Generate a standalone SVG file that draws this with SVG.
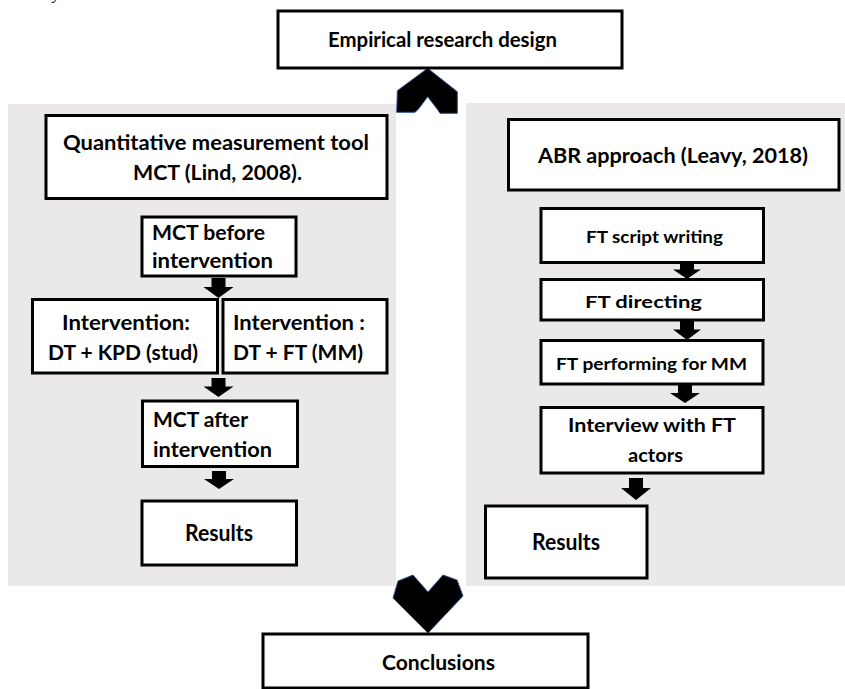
<svg xmlns="http://www.w3.org/2000/svg" width="845" height="689" viewBox="0 0 845 689">
  <style>
    .panel { fill: #eae8e8; }
    .box { fill: #ffffff; stroke: #000000; stroke-width: 3; }
    .t { font-family: Lato, "Open Sans", "Liberation Sans", sans-serif; font-weight: bold; fill: #000000; }
    .big { font-size: 21px; }
    .res { font-size: 22px; }
    .small { font-size: 17.5px; }
    .mid { font-size: 19.5px; }
    .arr { fill: #000000; }
    .chev { fill: #000000; stroke: #2f528f; stroke-width: 1; stroke-linejoin: miter; }
  </style>
  <rect width="845" height="689" fill="#ffffff"/>

  <!-- descender of the caption line above -->
  <text x="53" y="-1" font-family="'Liberation Serif', serif" font-style="italic" font-size="16">y</text>

  <!-- background panels -->
  <rect class="panel" x="8" y="104" width="388" height="482"/>
  <rect class="panel" x="466" y="103" width="379" height="483"/>

  <!-- connectors -->
  <g id="connectors">
    <!-- chevron up to the design box -->
    <polygon class="chev" points="427.7,68.3 457.3,91.7 457.3,113.3 440,113.3 437.3,109.3 427.7,96.7 418.3,109.3 415,112.3 396.7,112.3 397.3,90.7"/>
    <!-- chevron down to conclusions -->
    <polygon class="chev" points="398,581 413,575 428,592 443,575 457,580 463,596 428,633 393,598"/>
    <!-- left column arrows -->
    <path class="arr" d="M211.5,278 H225.5 V287 H233.5 L218.5,298 L203.5,287 H211.5 Z"/>
    <path class="arr" d="M211.5,378 H225.5 V386.5 H233.5 L218.5,397 L203.5,386.5 H211.5 Z"/>
    <path class="arr" d="M212,471 H226 V479 H234 L219,489 L204,479 H212 Z"/>
    <!-- right column arrows -->
    <path class="arr" d="M680,262 H694 V269.5 H701 L687,279 L673,269.5 H680 Z"/>
    <path class="arr" d="M680,321 H694 V329.5 H701 L687,340 L673,329.5 H680 Z"/>
    <path class="arr" d="M678,385 H692 V393 H700 L685,403 L670,393 H678 Z"/>
    <path class="arr" d="M629,478 H643 V488 H651 L636,500 L621,488 H629 Z"/>
  </g>

  <g id="design">
    <rect class="box" x="278" y="11" width="344" height="57"/>
    <text class="t big" x="328" y="47" textLength="229" lengthAdjust="spacingAndGlyphs">Empirical research design</text>
  </g>

  <g id="quant-tool">
    <rect class="box" x="46" y="115.5" width="341" height="83"/>
    <text class="t big" x="63" y="150" textLength="306" lengthAdjust="spacingAndGlyphs">Quantitative measurement tool</text>
    <text class="t big" x="133" y="180" textLength="169" lengthAdjust="spacingAndGlyphs">MCT (Lind, 2008).</text>
  </g>

  <g id="mct-before">
    <rect class="box" x="142" y="217" width="154" height="59"/>
    <text class="t big" x="152" y="240" textLength="113" lengthAdjust="spacingAndGlyphs">MCT before</text>
    <text class="t big" x="152" y="268" textLength="121" lengthAdjust="spacingAndGlyphs">intervention</text>
  </g>

  <g id="intervention-kpd">
    <rect class="box" x="32.5" y="299.5" width="185" height="73.5"/>
    <text class="t big" x="62" y="330" textLength="128" lengthAdjust="spacingAndGlyphs">Intervention:</text>
    <text class="t big" x="48" y="360" textLength="150" lengthAdjust="spacingAndGlyphs">DT + KPD (stud)</text>
  </g>

  <g id="intervention-ft">
    <rect class="box" x="223" y="299.5" width="164" height="73.5"/>
    <text class="t big" x="233" y="330" textLength="132" lengthAdjust="spacingAndGlyphs">Intervention :</text>
    <text class="t big" x="233" y="360" textLength="130" lengthAdjust="spacingAndGlyphs">DT + FT (MM)</text>
  </g>

  <g id="mct-after">
    <rect class="box" x="142.5" y="401" width="155" height="65.5"/>
    <text class="t big" x="153" y="427" textLength="95" lengthAdjust="spacingAndGlyphs">MCT after</text>
    <text class="t big" x="153" y="457" textLength="119" lengthAdjust="spacingAndGlyphs">intervention</text>
  </g>

  <g id="results-left">
    <rect class="box" x="142" y="501" width="154.5" height="64"/>
    <text class="t res" x="185" y="541" textLength="68" lengthAdjust="spacingAndGlyphs">Results</text>
  </g>

  <g id="abr">
    <rect class="box" x="508.5" y="119.5" width="330.5" height="70.5"/>
    <text class="t big" x="538" y="163" textLength="270" lengthAdjust="spacingAndGlyphs">ABR approach (Leavy, 2018)</text>
  </g>

  <g id="ft-script">
    <rect class="box" x="541" y="208.5" width="222.5" height="54"/>
    <text class="t small" x="586" y="243" textLength="137" lengthAdjust="spacingAndGlyphs">FT script writing</text>
  </g>

  <g id="ft-directing">
    <rect class="box" x="541" y="279.5" width="222.5" height="40.5"/>
    <text class="t small" x="585" y="308" textLength="117" lengthAdjust="spacingAndGlyphs">FT directing</text>
  </g>

  <g id="ft-performing">
    <rect class="box" x="541" y="340.5" width="222" height="43.5"/>
    <text class="t small" x="556" y="370" textLength="191" lengthAdjust="spacingAndGlyphs">FT performing for MM</text>
  </g>

  <g id="interview">
    <rect class="box" x="541" y="407.5" width="222" height="65.5"/>
    <text class="t mid" x="568" y="432" textLength="168" lengthAdjust="spacingAndGlyphs">Interview with FT</text>
    <text class="t mid" x="628" y="462" textLength="55" lengthAdjust="spacingAndGlyphs">actors</text>
  </g>

  <g id="results-right">
    <rect class="box" x="485.5" y="506" width="161.5" height="72"/>
    <text class="t res" x="532" y="550" textLength="68" lengthAdjust="spacingAndGlyphs">Results</text>
  </g>

  <g id="conclusions">
    <rect class="box" x="263" y="634" width="325" height="54"/>
    <text class="t big" x="382" y="670" textLength="113" lengthAdjust="spacingAndGlyphs">Conclusions</text>
  </g>
</svg>
